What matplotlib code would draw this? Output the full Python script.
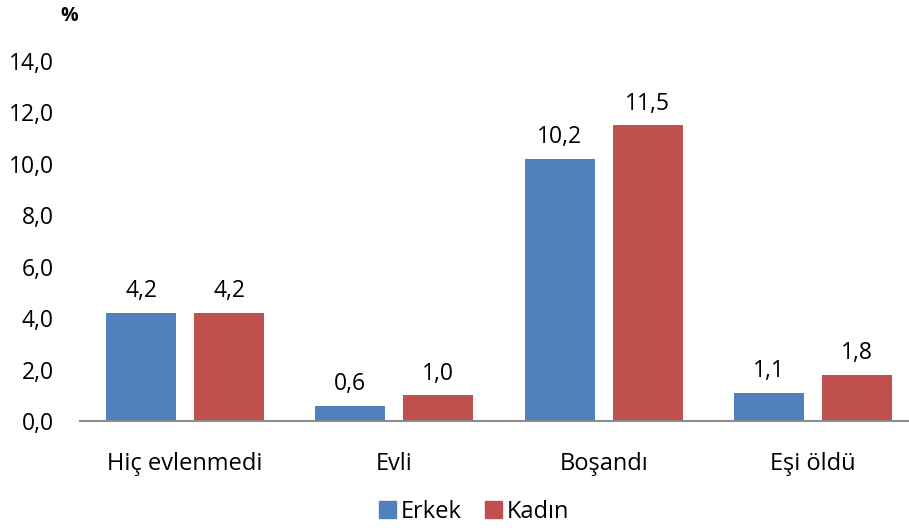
import matplotlib
matplotlib.use("Agg")
import matplotlib.pyplot as plt
import numpy as np
from matplotlib.patches import Patch

categories = ["Hiç evlenmedi", "Evli", "Boşandı", "Eşi öldü"]
erkek = [4.2, 0.6, 10.2, 1.1]
kadin = [4.2, 1.0, 11.5, 1.8]
erkek_labels = ["4,2", "0,6", "10,2", "1,1"]
kadin_labels = ["4,2", "1,0", "11,5", "1,8"]
yticks = [0, 2, 4, 6, 8, 10, 12, 14]
ytick_labels = ["0,0", "2,0", "4,0", "6,0", "8,0", "10,0", "12,0", "14,0"]

plt.rcParams['font.family'] = ['Open Sans', 'DejaVu Sans']
FS = 16.5

W, H = 909, 532
fig = plt.figure(figsize=(W/100, H/100), dpi=100)
ax = fig.add_axes([80/W, (H-421)/H, (909-80)/W, 360/H])

blue = "#4F81BD"
red = "#C0504D"
x = np.arange(len(categories))
bw = 0.335
off = 0.21
b1 = ax.bar(x - off, erkek, bw, color=blue)
b2 = ax.bar(x + off, kadin, bw, color=red)

for rects, labs in ((b1, erkek_labels), (b2, kadin_labels)):
    for r, lab in zip(rects, labs):
        ax.annotate(lab, (r.get_x() + r.get_width()/2, r.get_height()),
                    xytext=(0, 7), textcoords="offset points",
                    ha="center", va="bottom", fontsize=FS, color="black")

ax.set_xlim(-0.502, 3.459)
ax.set_ylim(0, 14)
ax.set_yticks(yticks)
ax.set_yticklabels(ytick_labels, fontsize=FS)
ax.set_xticks(x)
ax.set_xticklabels(categories, fontsize=17)
ax.tick_params(axis="both", length=0)
ax.tick_params(axis="x", pad=22)
ax.tick_params(axis="y", pad=19)
for s in ("top", "right", "left"):
    ax.spines[s].set_visible(False)
ax.spines["bottom"].set_color("#8C8C8C")
ax.spines["bottom"].set_linewidth(1.5)

fig.text(69/W, 1 - 16/H, "%", fontsize=14, fontweight="bold", ha="center", va="center")

handles = [Patch(color=blue, label="Erkek"), Patch(color=red, label="Kadın")]
fig.legend(handles=handles, loc="center", bbox_to_anchor=(474/W, 1 - 512/H), ncol=2,
           frameon=False, fontsize=17, handlelength=0.7, handleheight=0.7,
           handletextpad=0.2, columnspacing=1.0)

fig.savefig("out.png", dpi=100)
